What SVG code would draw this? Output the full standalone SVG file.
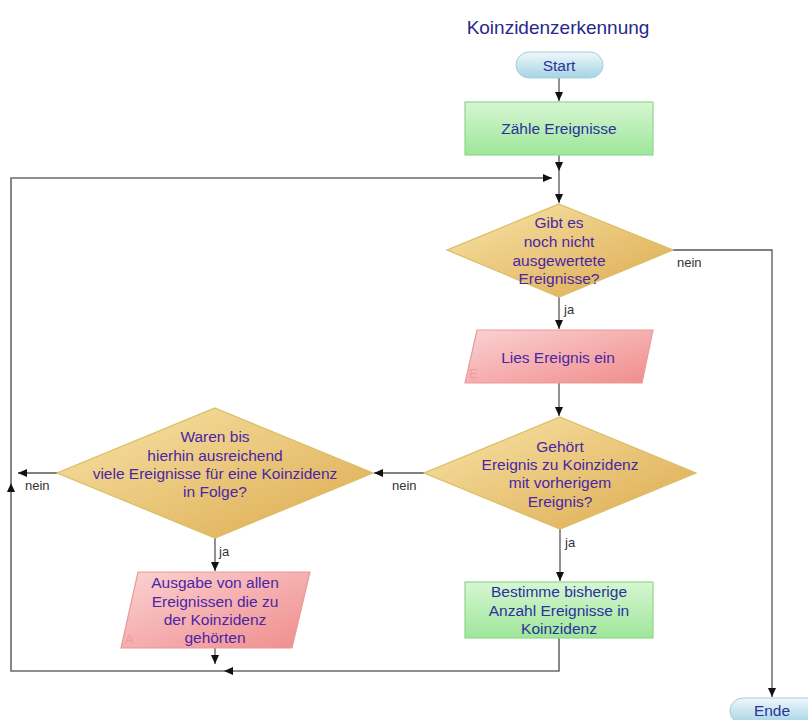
<svg xmlns="http://www.w3.org/2000/svg" width="808" height="720" viewBox="0 0 808 720">
<defs>
<linearGradient id="gBlue" x1="0" y1="0" x2="0" y2="1"><stop offset="0" stop-color="#eef8fb"/><stop offset="1" stop-color="#a6d3e4"/></linearGradient>
<linearGradient id="gGreen" x1="0" y1="0" x2="0" y2="1"><stop offset="0" stop-color="#d6f6d2"/><stop offset="1" stop-color="#9ee69a"/></linearGradient>
<linearGradient id="gPink" x1="0" y1="0" x2="1" y2="1"><stop offset="0" stop-color="#fbd2d2"/><stop offset="1" stop-color="#f08c8c"/></linearGradient>
<linearGradient id="gGold" x1="0" y1="0" x2="1" y2="1"><stop offset="0" stop-color="#f8e4a8"/><stop offset="1" stop-color="#dcaa4e"/></linearGradient>
<marker id="arr" markerUnits="userSpaceOnUse" markerWidth="10" markerHeight="8" refX="9" refY="4" orient="auto"><path d="M0,0 L9,4 L0,8 z" fill="#111"/></marker>
</defs>
<style>
.t{font-family:"Liberation Sans",Arial,sans-serif;font-size:15.5px;text-anchor:middle;}
.blue{fill:#2a329c;}
.purple{fill:#4a26a6;}
.lbl{font-family:"Liberation Sans",Arial,sans-serif;font-size:13px;fill:#333;}
.mark{font-family:"Liberation Sans",Arial,sans-serif;font-size:13px;fill:#f09a9a;}
.c{fill:none;stroke:#555;stroke-width:1.3;}
.loop{fill:none;stroke:#6a6a6a;stroke-width:1.6;}
.pill{fill:url(#gBlue);stroke:#a4cfdd;stroke-width:1;}
.box{fill:url(#gGreen);stroke:#8fd88a;stroke-width:1.2;}
.io{fill:url(#gPink);stroke:#ea9a9a;stroke-width:1.2;}
.dec{fill:url(#gGold);stroke:#d9bd62;stroke-width:1.2;}
</style>
<rect width="808" height="720" fill="#ffffff"/>
<text class="t" x="558" y="34" style="font-size:19px;fill:#28288a">Koinzidenzerkennung</text>

<g id="connectors">
<path class="c" d="M559 78 V101" marker-end="url(#arr)"/>
<path class="c" d="M559 155 V171" marker-end="url(#arr)"/>
<path class="c" d="M559 171 V203" marker-end="url(#arr)"/>
<path class="c" d="M559 297 V329" marker-end="url(#arr)"/>
<path class="c" d="M559 383 V416" marker-end="url(#arr)"/>
<path class="c" d="M424 473 H374" marker-end="url(#arr)"/>
<path class="c" d="M560 529 V581" marker-end="url(#arr)"/>
<path class="c" d="M215 538 V571" marker-end="url(#arr)"/>
<path class="c" d="M215 648 V664" marker-end="url(#arr)"/>
<path class="c" d="M673 250 H772 V697" marker-end="url(#arr)"/>
<path class="c" d="M57 473 H18" marker-end="url(#arr)"/>
<path class="loop" d="M559 638 V671 H224" marker-end="url(#arr)"/>
<path class="loop" d="M224 671 H11 V483" marker-end="url(#arr)"/>
<path class="loop" d="M11 483 V178 H552" marker-end="url(#arr)"/>
<text class="lbl" x="677" y="267">nein</text>
<text class="lbl" x="564" y="314">ja</text>
<text class="lbl" x="392" y="490">nein</text>
<text class="lbl" x="25" y="490">nein</text>
<text class="lbl" x="565" y="547">ja</text>
<text class="lbl" x="219" y="556">ja</text>
</g>

<g id="start">
<rect class="pill" x="516" y="52" width="87" height="26" rx="13"/>
<text class="t blue" x="559" y="71">Start</text>
</g>

<g id="zaehle">
<rect class="box" x="465" y="102" width="188" height="53"/>
<text class="t blue" x="559" y="134">Zähle Ereignisse</text>
</g>

<g id="decision1">
<polygon class="dec" points="559,204 673,250 559,297 447,250"/>
<text class="t purple" x="559" y="228">Gibt es</text>
<text class="t purple" x="559" y="247">noch nicht</text>
<text class="t purple" x="559" y="266">ausgewertete</text>
<text class="t purple" x="559" y="284">Ereignisse?</text>
</g>

<g id="lies">
<polygon class="io" points="477,330 653,330 642,383 465,383"/>
<text class="t purple" x="558" y="363">Lies Ereignis ein</text>
<text class="mark" x="469" y="378">E</text>
</g>

<g id="decision2">
<polygon class="dec" points="560,417 696,473 560,529 424,473"/>
<text class="t purple" x="560" y="452">Gehört</text>
<text class="t purple" x="560" y="470">Ereignis zu Koinzidenz</text>
<text class="t purple" x="560" y="488">mit vorherigem</text>
<text class="t purple" x="560" y="507">Ereignis?</text>
</g>

<g id="decision3">
<polygon class="dec" points="215,408 373,473 215,538 57,473"/>
<text class="t purple" x="215" y="442">Waren bis</text>
<text class="t purple" x="215" y="461">hierhin ausreichend</text>
<text class="t purple" x="215" y="479">viele Ereignisse für eine Koinzidenz</text>
<text class="t purple" x="215" y="497">in Folge?</text>
</g>

<g id="ausgabe">
<polygon class="io" points="138,572 310,572 292,648 121,648"/>
<text class="t purple" x="215" y="588">Ausgabe von allen</text>
<text class="t purple" x="215" y="607">Ereignissen die zu</text>
<text class="t purple" x="215" y="625">der Koinzidenz</text>
<text class="t purple" x="215" y="643">gehörten</text>
<text class="mark" x="125" y="644">A</text>
</g>

<g id="bestimme">
<rect class="box" x="465" y="582" width="188" height="56"/>
<text class="t blue" x="559" y="597">Bestimme bisherige</text>
<text class="t blue" x="559" y="616">Anzahl Ereignisse in</text>
<text class="t blue" x="559" y="634">Koinzidenz</text>
</g>

<g id="ende">
<rect class="pill" x="730" y="698" width="100" height="26" rx="13"/>
<text class="t blue" x="772" y="716">Ende</text>
</g>
</svg>
